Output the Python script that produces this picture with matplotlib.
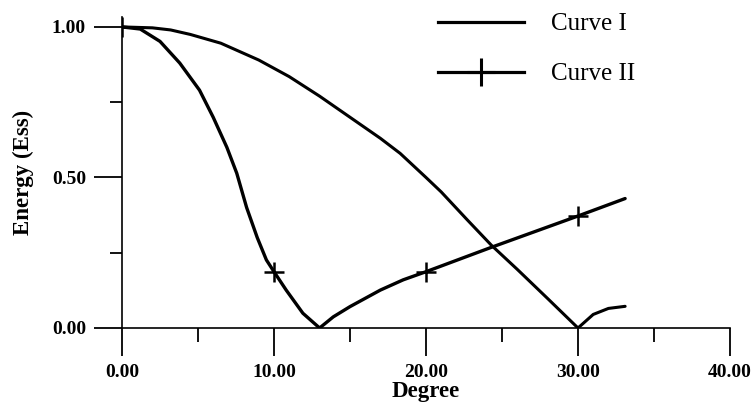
import matplotlib
matplotlib.use("Agg")
import matplotlib.pyplot as plt
from matplotlib.lines import Line2D

# ---- data ----
curve1_x = [0, 2, 3.2, 4.5, 6.5, 9, 11, 13, 15, 17, 18.3, 20, 21, 22.7, 24.3, 26, 28,
            30, 31, 32, 33.1]
curve1_y = [1.0, 0.997, 0.99, 0.975, 0.946, 0.89, 0.835, 0.77, 0.70, 0.63, 0.58, 0.50,
            0.452, 0.36, 0.275, 0.195, 0.098, 0.0, 0.045, 0.065, 0.072]

curve2_x = [0, 1.2, 2.5, 3.8, 5.1, 6, 6.9, 7.55, 8.2, 8.9, 9.5, 10, 10.8, 11.9, 13,
            13.9, 15, 17, 18.5, 20, 24.3, 30, 33.1]
curve2_y = [1.0, 0.993, 0.952, 0.88, 0.79, 0.70, 0.60, 0.514, 0.40, 0.30, 0.226, 0.187,
            0.126, 0.049, 0.0, 0.037, 0.071, 0.126, 0.16, 0.187, 0.268, 0.372, 0.43]
curve2_marker_x = [0, 10, 20, 30]

series_labels = ["Curve I", "Curve II"]
x_ticks = [0, 10, 20, 30, 40]
x_ticklabels = ["0.00", "10.00", "20.00", "30.00", "40.00"]
y_ticks = [0.0, 0.5, 1.0]
y_ticklabels = ["0.00", "0.50", "1.00"]
x_minor = [5, 15, 25, 35]
y_minor = [0.25, 0.75]
x_label = "Degree"
y_label = "Energy (Ess)"

serif = "Liberation Serif"

fig = plt.figure(figsize=(7.55, 4.07), dpi=100)
ax = fig.add_axes([122 / 755, 1 - 328 / 407, (730 - 122) / 755, (328 - 17) / 407])

ax.plot(curve1_x, curve1_y, color="black", lw=2.2, solid_capstyle="round",
        solid_joinstyle="round")
mark_idx = [curve2_x.index(v) for v in curve2_x if v in curve2_marker_x]
ax.plot(curve2_x, curve2_y, color="black", lw=2.4, marker="+", markersize=15,
        markeredgewidth=1.8, markevery=mark_idx, solid_capstyle="round",
        solid_joinstyle="round")

ax.set_xlim(0, 40)
ax.set_ylim(0, 1.033)
for s in ["top", "right"]:
    ax.spines[s].set_visible(False)
for s in ["left", "bottom"]:
    ax.spines[s].set_linewidth(1.2)

ax.set_xticks(x_ticks)
ax.set_xticklabels(x_ticklabels)
ax.set_yticks(y_ticks)
ax.set_yticklabels(y_ticklabels)
ax.set_xticks(x_minor, minor=True)
ax.set_yticks(y_minor, minor=True)
ax.tick_params(axis="both", which="major", length=20, width=1.3, direction="out", pad=6)
ax.tick_params(axis="x", which="minor", length=10, width=1.3, direction="out")
ax.tick_params(axis="y", which="minor", length=9, width=1.3, direction="out")
for lab in ax.get_xticklabels() + ax.get_yticklabels():
    lab.set_fontfamily(serif)
    lab.set_fontweight("bold")
    lab.set_fontsize(14)

ax.set_xlabel(x_label, fontfamily=serif, fontweight="bold", fontsize=16.5, labelpad=0)
ax.set_ylabel(y_label, fontfamily=serif, fontweight="bold", fontsize=16.5, labelpad=13)

handles = [
    Line2D([], [], color="black", lw=2.3),
    Line2D([], [], color="black", lw=2.3, marker="+", markersize=20, markeredgewidth=2.2),
]
fig.legend(handles, series_labels, loc="upper left",
           bbox_to_anchor=(438 / 755, 1 - 13 / 407), frameon=False,
           prop={"family": serif, "size": 18}, handlelength=3.45,
           handletextpad=1.08, labelspacing=1.1, borderpad=0, borderaxespad=0)

fig.savefig("out.png", dpi=100)
